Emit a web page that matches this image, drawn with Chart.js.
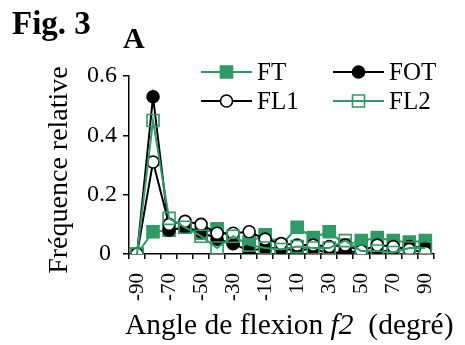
<!DOCTYPE html>
<html>
<head>
<meta charset="utf-8">
<script src="https://cdn.jsdelivr.net/npm/chart.js@4"></script>
<style>
  html, body { margin: 0; padding: 0; background: #fff; }
  #wrap { position: relative; width: 465px; height: 345px; }
</style>
</head>
<body>
<div id="wrap"><canvas id="fig3" width="465" height="345"></canvas></div>
<script>
// Angle classes (deg) and relative frequencies
const angles = [-90, -80, -70, -60, -50, -40, -30, -20, -10, 0, 10, 20, 30, 40, 50, 60, 70, 80, 90];
const ft  = [0, 0.075, 0.08, 0.09, 0.07, 0.085, 0.05, 0.04, 0.065, 0.03, 0.09, 0.055, 0.075, 0.03, 0.045, 0.055, 0.045, 0.04, 0.045];
const fot = [0, 0.53, 0.08, 0.09, 0.075, 0.05, 0.035, 0.01, 0.02, 0.02, 0.01, 0.02, 0.0, 0.01, 0.005, 0.005, 0.015, 0.025, 0.02];
const fl1 = [0, 0.31, 0.10, 0.11, 0.10, 0.07, 0.07, 0.075, 0.05, 0.035, 0.03, 0.03, 0.025, 0.03, 0.01, 0.03, 0.025, 0.015, 0.005];
const fl2 = [0, 0.45, 0.12, 0.09, 0.06, 0.02, 0.06, 0.03, 0.02, 0.015, 0.025, 0.02, 0.02, 0.045, 0.01, 0.01, 0.005, 0.02, 0.02];
const yTicks = [0, 0.2, 0.4, 0.6];

const GREEN = '#2f9a66';
const SERIF = '"Liberation Serif", "Times New Roman", serif';

function series(label, data, color, style, fill, radius) {
    return {
        label: label,
        data: data,
        borderColor: color,
        borderWidth: 2,
        pointStyle: style,
        pointRadius: radius,
        pointHoverRadius: radius,
        pointBorderColor: color,
        pointBackgroundColor: fill,
        pointBorderWidth: 1.6,
        tension: 0,
        fill: false
    };
}

// index 0 is painted last, so FL2 ends up on top like the original
const sets = [
    series('FL2', fl2, GREEN, 'rect', 'rgba(0,0,0,0)', 8.5),
    series('FL1', fl1, '#000', 'circle', '#fff', 6),
    series('FOT', fot, '#000', 'circle', '#000', 6),
    series('FT', ft, GREEN, 'rect', GREEN, 8.5)
];

// legend slots: [dataset label, left of line, centre y]
const legendSlots = [['FT', 201, 72], ['FOT', 333, 72], ['FL1', 201, 101], ['FL2', 333, 101]];

const decorations = {
    id: 'decorations',
    afterDraw(chart) {
        const ctx = chart.ctx;
        ctx.save();
        ctx.fillStyle = '#000';
        ctx.textBaseline = 'alphabetic';
        ctx.textAlign = 'left';

        ctx.font = 'bold 33px ' + SERIF;
        ctx.fillText('Fig. 3', 12, 34);
        ctx.font = 'bold 30px ' + SERIF;
        ctx.fillText('A', 123, 48);

        // y title
        ctx.save();
        ctx.translate(67, 170);
        ctx.rotate(-Math.PI / 2);
        ctx.textAlign = 'center';
        ctx.font = '28px ' + SERIF;
        ctx.fillText('Fréquence relative', 0, 0);
        ctx.restore();

        // x title with italic f2
        const parts = [['Angle de flexion ', '29.5px '], ['f2', 'italic 29.5px '], ['  (degré)', '29.5px ']];
        let x = 125;
        parts.forEach(p => {
            ctx.font = p[1] + SERIF;
            ctx.fillText(p[0], x, 334);
            x += ctx.measureText(p[0]).width;
        });

        // legend
        legendSlots.forEach(slot => {
            const ds = chart.data.datasets.find(d => d.label === slot[0]);
            const x0 = slot[1], y = slot[2], cx = x0 + 25.5;
            ctx.strokeStyle = ds.borderColor;
            ctx.lineWidth = ds.borderWidth;
            ctx.beginPath();
            ctx.moveTo(x0, y);
            ctx.lineTo(x0 + 51, y);
            ctx.stroke();
            ctx.fillStyle = ds.pointBackgroundColor;
            ctx.strokeStyle = ds.pointBorderColor;
            ctx.lineWidth = ds.pointBorderWidth;
            ctx.beginPath();
            if (ds.pointStyle === 'rect') {
                const h = ds.pointRadius * Math.SQRT1_2;
                ctx.rect(cx - h, y - h, 2 * h, 2 * h);
            } else {
                ctx.arc(cx, y, ds.pointRadius, 0, Math.PI * 2);
            }
            ctx.fill();
            ctx.stroke();
            ctx.fillStyle = '#000';
            ctx.font = '25px ' + SERIF;
            ctx.textBaseline = 'middle';
            ctx.fillText(slot[0], x0 + 56, y + 1);
            ctx.textBaseline = 'alphabetic';
        });
        ctx.restore();
    }
};

new Chart(document.getElementById('fig3').getContext('2d'), {
    type: 'line',
    data: { labels: angles.map(String), datasets: sets },
    options: {
        responsive: false,
        animation: false,
        events: [],
        layout: { padding: { top: 76, right: 18, left: 0, bottom: 0 } },
        plugins: { legend: { display: false }, tooltip: { enabled: false } },
        scales: {
            x: {
                offset: true,
                afterFit: s => { s.height = 91; },
                grid: { display: true, offset: true, drawOnChartArea: false, drawTicks: true, tickLength: 5, color: '#000', lineWidth: 1.5 },
                border: { display: true, color: '#000', width: 1.5 },
                ticks: {
                    autoSkip: false,
                    minRotation: 90,
                    maxRotation: 90,
                    padding: 14,
                    color: '#000',
                    font: { family: SERIF, size: 21 },
                    callback: (v, i) => (i % 2 === 0 ? angles[i] : '')
                }
            },
            y: {
                min: yTicks[0],
                max: yTicks[yTicks.length - 1],
                afterFit: s => { s.width = 129; },
                afterBuildTicks: s => { s.ticks = yTicks.map(v => ({ value: v })); },
                grid: { display: true, drawOnChartArea: false, drawTicks: true, tickLength: 6, color: '#000', lineWidth: 1.5 },
                border: { display: true, color: '#000', width: 1.5 },
                ticks: {
                    padding: 6,
                    color: '#000',
                    font: { family: SERIF, size: 24 },
                    callback: v => (v === 0 ? '0 ' : v.toFixed(1))
                }
            }
        }
    },
    plugins: [decorations]
});
</script>
</body>
</html>
